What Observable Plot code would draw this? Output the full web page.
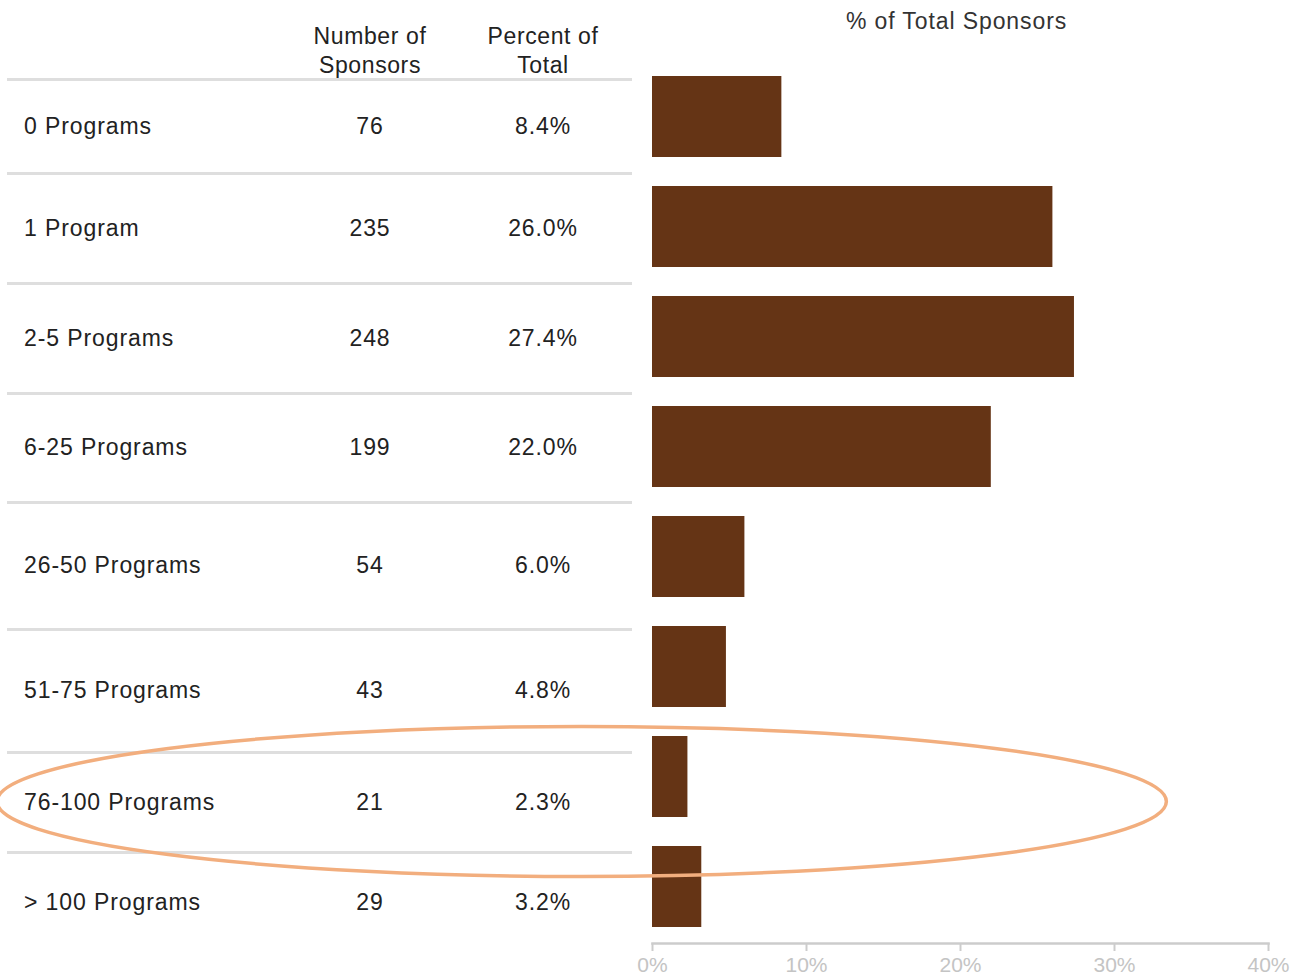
<!DOCTYPE html>
<html>
<head>
<meta charset="utf-8">
<script src="https://cdn.jsdelivr.net/npm/d3@7"></script>
<script src="https://cdn.jsdelivr.net/npm/@observablehq/plot@0.6"></script>
<style>
  html, body { margin: 0; padding: 0; background: #fff; }
  #wrap { position: relative; width: 1291px; height: 980px; font-family: "Liberation Sans", Arial, sans-serif; color: #222; }
  #tbl { position: absolute; left: 7px; top: 0; width: 625px; border-collapse: collapse; table-layout: fixed; font-size: 23px; letter-spacing: 0.9px; }
  #tbl th, #tbl td { box-sizing: border-box; }
  #tbl th { font-weight: normal; line-height: 29px; vertical-align: bottom; padding: 0; height: 79px; letter-spacing: 0.6px; }
  #tbl th span { position: relative; top: 2px; }
  #tbl th:nth-child(1) { width: 279px; }
  #tbl th:nth-child(2) { width: 168px; }
  #tbl th:nth-child(3) { width: 178px; }
  #tbl td { padding: 0; border-top: 3px solid #dedede; }
  #tbl td.lab { padding-left: 17px; text-align: left; }
  #tbl td.num { text-align: center; }
  #tbl td.pct { text-align: center; }
  #tbl tbody tr:nth-child(1) td { height: 94px; }
  #tbl tbody tr:nth-child(2) td { height: 110px; }
  #tbl tbody tr:nth-child(3) td { height: 110px; }
  #tbl tbody tr:nth-child(4) td { height: 109px; }
  #tbl tbody tr:nth-child(5) td { height: 127px; }
  #tbl tbody tr:nth-child(6) td { height: 123px; }
  #tbl tbody tr:nth-child(7) td { height: 100px; }
  #tbl tbody tr:nth-child(8) td { height: 100px; }
  #plot { position: absolute; left: 0; top: 0; pointer-events: none; }
</style>
</head>
<body>
<div id="wrap">
  <table id="tbl"><thead><tr id="hdr"></tr></thead><tbody id="body"></tbody></table>
  <div id="plot"></div>
</div>
<script>
const categories = ["0 Programs", "1 Program", "2-5 Programs", "6-25 Programs", "26-50 Programs", "51-75 Programs", "76-100 Programs", "> 100 Programs"];
const sponsors = [76, 235, 248, 199, 54, 43, 21, 29];
const percents = [8.4, 26.0, 27.4, 22.0, 6.0, 4.8, 2.3, 3.2];
const headers = ["", "Number of<br>Sponsors", "Percent of<br>Total"];
const xTicks = [0, 10, 20, 30, 40];
const chartTitle = "% of Total Sponsors";
const highlighted = "76-100 Programs";

const rows = categories.map((c, i) => ({category: c, sponsors: sponsors[i], percent: percents[i]}));

// Table
const hdr = document.getElementById("hdr");
headers.forEach(h => { const th = document.createElement("th"); th.innerHTML = "<span>" + h + "</span>"; hdr.appendChild(th); });
const body = document.getElementById("body");
rows.forEach(r => {
  const tr = document.createElement("tr");
  [["lab", r.category], ["num", String(r.sponsors)], ["pct", r.percent.toFixed(1) + "%"]].forEach(([cls, t]) => {
    const td = document.createElement("td"); td.className = cls; td.textContent = t; tr.appendChild(td);
  });
  body.appendChild(tr);
});

const plot = Plot.plot({
  width: 1291,
  height: 980,
  marginLeft: 652,
  marginRight: 23,
  marginTop: 47,
  marginBottom: 37,
  style: {fontFamily: "'Liberation Sans', Arial, sans-serif", background: "transparent", overflow: "visible"},
  x: {domain: [0, 40]},
  y: {domain: categories, range: [47, 957], padding: 0.2636, axis: null},
  marks: [
    Plot.barX(rows, {x: "percent", y: "category", fill: "#653415"}),
    Plot.frame({anchor: "bottom", stroke: "#cccccc", strokeWidth: 2.5}),
    Plot.axisX({ticks: xTicks, tickFormat: d => d + "%", tickSize: 8, stroke: "#cccccc", strokeWidth: 2,
                tickPadding: 6, fontSize: 21, fill: "#c4c4c4", anchor: "bottom", label: null}),
    Plot.text([chartTitle], {frameAnchor: "top", dy: -35, dx: -4, fontSize: 23, fill: "#333", className: "ttl"})
  ]
});
document.getElementById("plot").appendChild(plot);
d3.select(plot).selectAll(".ttl text").attr("letter-spacing", "0.9px");

// Ellipse annotation around the highlighted row, positioned via the plot's scales
const xs = plot.scale("x"), ys = plot.scale("y");
const cy = ys.apply(highlighted) + ys.bandwidth / 2 + 25;
const right = xs.apply(33.4), left = -3;
d3.select(plot).append("ellipse")
  .attr("cx", (left + right) / 2)
  .attr("cy", cy)
  .attr("rx", (right - left) / 2)
  .attr("ry", 75)
  .attr("fill", "none")
  .attr("stroke", "#f2ae7e")
  .attr("stroke-width", 3.5);
</script>
</body>
</html>
